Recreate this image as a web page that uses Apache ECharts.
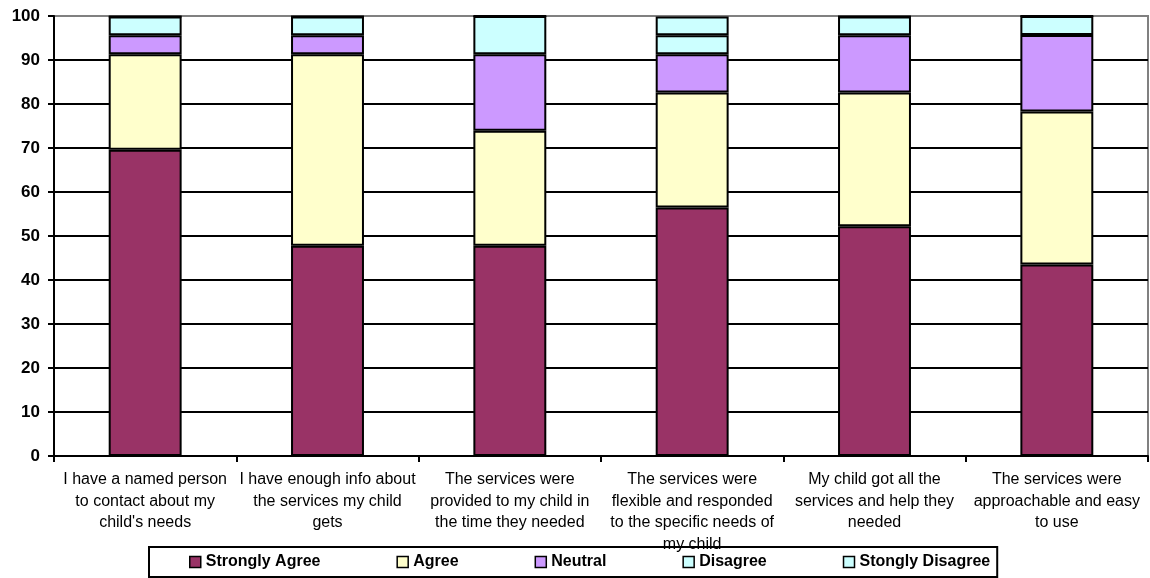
<!DOCTYPE html>
<html>
<head>
<meta charset="utf-8">
<script src="https://cdn.jsdelivr.net/npm/echarts@6/dist/echarts.min.js"></script>
<style>
  html, body { margin: 0; padding: 0; background: #fff; }
  #chart { width: 1150px; height: 578px; }
</style>
</head>
<body>
<div id="chart"></div>
<script>
// Survey statements (x-axis categories)
const categories = [
  "I have a named person\nto contact about my\nchild's needs",
  "I have enough info about\nthe services my child\ngets",
  "The services were\nprovided to my child in\nthe time they needed",
  "The services were\nflexible and responded\nto the specific needs of\nmy child",
  "My child got all the\nservices and help they\nneeded",
  "The services were\napproachable and easy\nto use"
];

// Percentage of responses per answer
const stronglyAgree    = [69.6, 47.8, 47.8, 56.5, 52.2, 43.5];
const agree            = [21.7, 43.5, 26.1, 26.1, 30.4, 34.8];
const neutral          = [4.3, 4.3, 17.4, 8.7, 13.0, 17.4];
const disagree         = [4.3, 4.3, 8.7, 4.3, 4.3, 4.3];
const stonglyDisagree  = [0, 0, 0, 4.3, 0, 0];

const seriesNames  = ['Strongly Agree', 'Agree', 'Neutral', 'Disagree', 'Stongly Disagree'];
const seriesValues = [stronglyAgree, agree, neutral, disagree, stonglyDisagree];
const seriesColors = ['#993366', '#FFFFCC', '#CC99FF', '#CCFFFF', '#CCFFFF'];

const FONT = '"Liberation Sans", Arial, sans-serif';

// gridlines are black, except the top one which is part of the grey plot frame
const gridLineColors = ['#000', '#000', '#000', '#000', '#000', '#000', '#000', '#000', '#000', '#000', '#808080'];

const chart = echarts.init(document.getElementById('chart'), null, { renderer: 'canvas' });

chart.setOption({
  backgroundColor: '#ffffff',
  animation: false,
  grid: {
    left: 54, right: 2, top: 16, bottom: 122,
    show: true, borderColor: '#808080', borderWidth: 2, backgroundColor: 'transparent'
  },
  legend: {
    left: 149, top: 547,
    padding: [7, 7, 7, 40],
    borderColor: '#000', borderWidth: 2,
    itemWidth: 11, itemHeight: 11, itemGap: 76,
    icon: 'rect',
    itemStyle: { borderColor: '#000', borderWidth: 1.5 },
    textStyle: { fontFamily: FONT, fontSize: 16, fontWeight: 'bold', color: '#000', lineHeight: 16 },
    data: seriesNames
  },
  xAxis: {
    type: 'category',
    data: categories,
    boundaryGap: true,
    axisLine: { lineStyle: { color: '#000', width: 2 } },
    axisTick: { show: true, length: 6, lineStyle: { color: '#000', width: 2 } },
    axisLabel: {
      interval: 0, margin: 13,
      fontFamily: FONT, fontSize: 16, lineHeight: 21.5, color: '#000'
    },
    splitLine: { show: false }
  },
  yAxis: {
    type: 'value',
    min: 0, max: 100, interval: 10,
    axisLine: { show: true, lineStyle: { color: '#000', width: 2 } },
    axisTick: { show: true, length: 6, lineStyle: { color: '#000', width: 2 } },
    axisLabel: { margin: 14, fontFamily: FONT, fontSize: 17, fontWeight: 'bold', color: '#000' },
    splitLine: { show: true, lineStyle: { color: gridLineColors, width: 2 } }
  },
  series: seriesNames.map((name, i) => ({
    name: name,
    type: 'bar',
    stack: 'total',
    barWidth: '40%',
    data: seriesValues[i],
    itemStyle: { color: seriesColors[i], borderColor: '#000', borderWidth: 2 }
  }))
});
</script>
</body>
</html>
